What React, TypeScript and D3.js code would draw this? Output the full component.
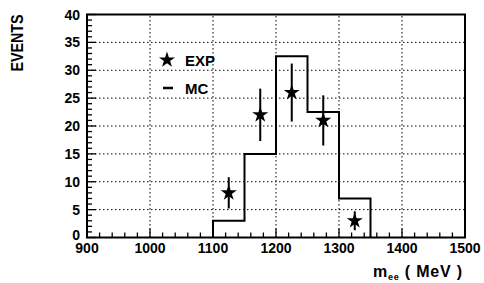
import * as d3 from "d3";
import React from "react";

const width = 484;
const height = 283;

// MC histogram bins
const binEdges = [1100, 1150, 1200, 1250, 1300, 1350];
const mcCounts = [3, 15, 32.5, 22.5, 7];

// experimental points
const expMass = [1125, 1175, 1225, 1275, 1325];
const expCounts = [8, 22, 26, 21, 3];
const expErrors = [2.8, 4.7, 5.2, 4.5, 1.7];

const xTicks = [900, 1000, 1100, 1200, 1300, 1400, 1500];
const yTicks = [0, 5, 10, 15, 20, 25, 30, 35, 40];

const x = d3.scaleLinear().domain([900, 1500]).range([87, 465]);
const y = d3.scaleLinear().domain([0, 40]).range([237.5, 14.5]);

const font = "'Liberation Sans', Arial, sans-serif";

const histPoints: [number, number][] = [[binEdges[0], 0]];
mcCounts.forEach((c, i) => {
  histPoints.push([binEdges[i], c]);
  histPoints.push([binEdges[i + 1], c]);
});
histPoints.push([binEdges[binEdges.length - 1], 0]);

const histLine = d3
  .line<[number, number]>()
  .x((d) => x(d[0]))
  .y((d) => y(d[1]));

const star = d3.symbol().type(d3.symbolStar).size(80);

const App = () => {
  const xMinor = d3.range(900, 1501, 20);
  const yMinor = d3.range(0, 41, 1);
  return (
    <svg
      width={width}
      height={height}
      style={{ position: "absolute", left: 0, top: 0, background: "#fff" }}
    >
      {/* grid */}
      <g stroke="#000" strokeWidth={1} strokeDasharray="1.5,2.5">
        {xTicks.slice(1, -1).map((t) => (
          <line key={"gx" + t} x1={x(t)} x2={x(t)} y1={y(0)} y2={y(40)} />
        ))}
        {yTicks.slice(1, -1).map((t) => (
          <line key={"gy" + t} x1={x(900)} x2={x(1500)} y1={y(t)} y2={y(t)} />
        ))}
      </g>

      {/* ticks */}
      <g stroke="#000" strokeWidth={1.3}>
        {xMinor.map((t) => (
          <line
            key={"tx" + t}
            x1={x(t)}
            x2={x(t)}
            y1={y(0)}
            y2={y(0) - (t % 100 === 0 ? 9 : 5)}
          />
        ))}
        {yMinor.map((t) => (
          <line
            key={"ty" + t}
            x1={x(900)}
            x2={x(900) + (t % 5 === 0 ? 9 : 5)}
            y1={y(t)}
            y2={y(t)}
          />
        ))}
      </g>

      {/* frame */}
      <rect
        x={x(900)}
        y={y(40)}
        width={x(1500) - x(900)}
        height={y(0) - y(40)}
        fill="none"
        stroke="#000"
        strokeWidth={2}
      />

      {/* MC histogram */}
      <path d={histLine(histPoints) || ""} fill="none" stroke="#000" strokeWidth={2} />

      {/* data points */}
      {expMass.map((m, i) => (
        <g key={"p" + m}>
          <line
            x1={x(m)}
            x2={x(m)}
            y1={y(expCounts[i] - expErrors[i])}
            y2={y(expCounts[i] + expErrors[i])}
            stroke="#000"
            strokeWidth={2}
          />
          <path d={star() || ""} transform={`translate(${x(m)},${y(expCounts[i])})`} fill="#000" />
        </g>
      ))}

      {/* legend */}
      <path d={star() || ""} transform="translate(167,60)" fill="#000" />
      <text x={185} y={66} fontFamily={font} fontWeight="bold" fontSize={15}>
        EXP
      </text>
      <line x1={163} x2={173} y1={88} y2={88} stroke="#000" strokeWidth={2.5} />
      <text x={185} y={94} fontFamily={font} fontWeight="bold" fontSize={15}>
        MC
      </text>

      {/* tick labels */}
      <g fontFamily={font} fontWeight="bold" fontSize={14} fill="#000">
        {xTicks.map((t) => (
          <text key={"lx" + t} x={x(t)} y={253} textAnchor="middle">
            {t}
          </text>
        ))}
        {yTicks.map((t) => (
          <text key={"ly" + t} x={80} y={y(t) + (t === 0 ? 2 : 5)} textAnchor="end">
            {t}
          </text>
        ))}
      </g>

      {/* axis titles */}
      <text
        transform="translate(23,43) rotate(-90)"
        textAnchor="middle"
        fontFamily={font}
        fontWeight="bold"
        fontSize={16}
        textLength={57}
        lengthAdjust="spacingAndGlyphs"
      >
        EVENTS
      </text>
      <text
        x={373}
        y={277}
        fontFamily={font}
        fontWeight="bold"
        fontSize={16}
        textLength={89}
        lengthAdjust="spacing"
      >
        m
        <tspan fontSize={9} dy={3}>
          ee
        </tspan>
        <tspan dy={-3}> ( MeV )</tspan>
      </text>
    </svg>
  );
};

export default App;
